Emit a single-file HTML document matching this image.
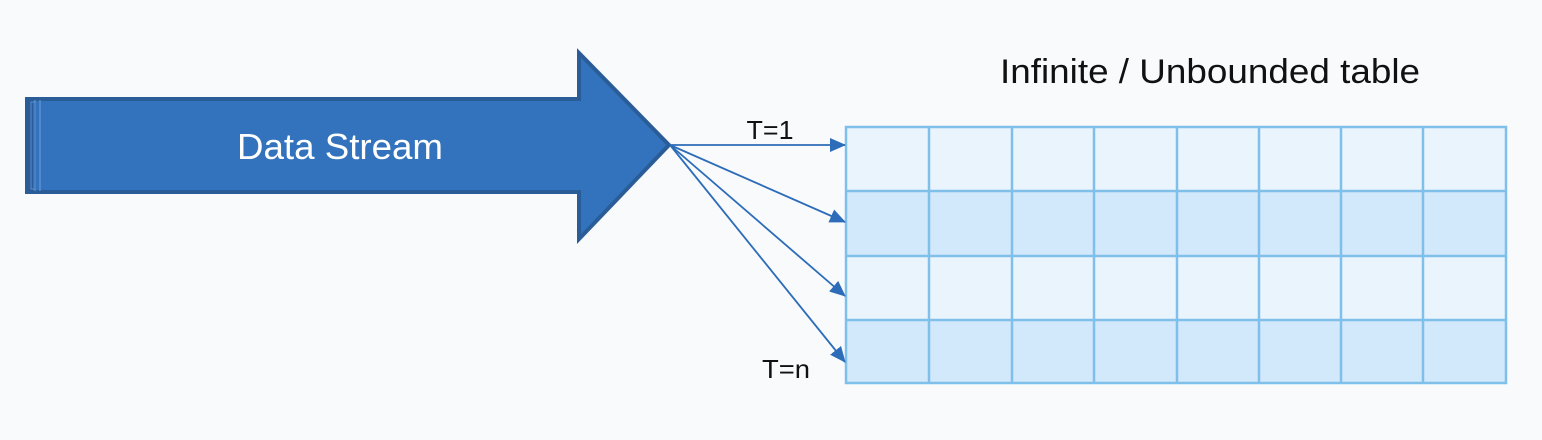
<!DOCTYPE html>
<html><head><style>body{margin:0;background:#f8fafc}svg{display:block}</style></head><body>
<svg width="1542" height="440" xmlns="http://www.w3.org/2000/svg" font-family="Liberation Sans, sans-serif">
<rect width="1542" height="440" fill="#f8fafc"/>
<polygon points="27,99 579,99 579,53 669,145 579,239 579,192 27,192" fill="#3373bd" stroke="#2a5d98" stroke-width="4" stroke-linejoin="miter"/>
<rect x="27" y="99" width="6" height="93" fill="#2a5d98"/>
<line x1="35" y1="100" x2="35" y2="191" stroke="#6f9fd6" stroke-width="1"/>
<line x1="40" y1="100" x2="40" y2="191" stroke="#6f9fd6" stroke-width="1"/>
<rect x="31" y="102" width="4" height="87" fill="none" stroke="#5b8ccc" stroke-width="1"/>
<text x="340" y="159" font-size="36" fill="#fff" text-anchor="middle" textLength="206" lengthAdjust="spacingAndGlyphs">Data Stream</text>
<text x="1210" y="83" font-size="34" fill="#111" text-anchor="middle" textLength="420" lengthAdjust="spacingAndGlyphs">Infinite / Unbounded table</text>
<g>
<rect x="846" y="127" width="660" height="64" fill="#eaf4fd"/>
<rect x="846" y="191" width="660" height="65" fill="#d2e8fb"/>
<rect x="846" y="256" width="660" height="64" fill="#eaf4fd"/>
<rect x="846" y="320" width="660" height="63" fill="#d2e8fb"/>
<g stroke="#7fc0ea" stroke-width="2.5" fill="none">
<rect x="846" y="127" width="660" height="256"/>
<line x1="846" y1="191" x2="1506" y2="191"/><line x1="846" y1="256" x2="1506" y2="256"/><line x1="846" y1="320" x2="1506" y2="320"/>
<line x1="929" y1="127" x2="929" y2="383"/><line x1="1012" y1="127" x2="1012" y2="383"/><line x1="1094" y1="127" x2="1094" y2="383"/><line x1="1177" y1="127" x2="1177" y2="383"/><line x1="1259" y1="127" x2="1259" y2="383"/><line x1="1341" y1="127" x2="1341" y2="383"/><line x1="1423" y1="127" x2="1423" y2="383"/>
</g></g>
<defs><marker id="a" markerWidth="16" markerHeight="14" refX="15" refY="7" orient="auto" markerUnits="userSpaceOnUse"><polygon points="0,0 16,7 0,14" fill="#2c6cb8"/></marker></defs>
<g stroke="#2c6cb8" stroke-width="1.8" marker-end="url(#a)">
<line x1="670" y1="145" x2="845" y2="145"/>
<line x1="670" y1="145" x2="845" y2="222"/>
<line x1="670" y1="145" x2="845" y2="296"/>
<line x1="670" y1="145" x2="845" y2="362"/>
</g>
<text x="770" y="139" font-size="26" fill="#111" text-anchor="middle" textLength="47" lengthAdjust="spacingAndGlyphs">T=1</text>
<text x="786" y="378" font-size="26" fill="#111" text-anchor="middle" textLength="48" lengthAdjust="spacingAndGlyphs">T=n</text>
</svg>
</body></html>
